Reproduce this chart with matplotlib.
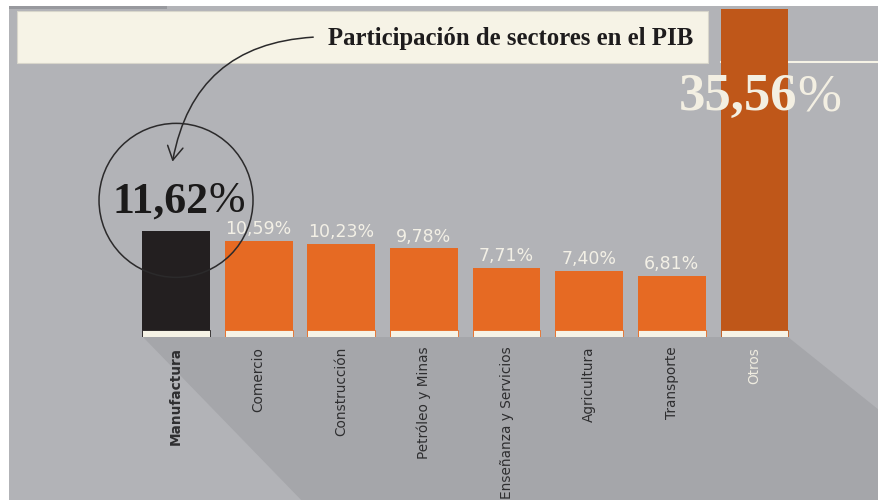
import numpy as np
import matplotlib.pyplot as plt
from matplotlib.patches import Rectangle, Polygon, Circle, FancyArrowPatch

# data
sectores = ["Manufactura", "Comercio", "Construcción", "Petróleo y Minas",
            "Enseñanza y Servicios", "Agricultura", "Transporte", "Otros"]
participacion = [11.62, 10.59, 10.23, 9.78, 7.71, 7.40, 6.81, 35.56]
etiquetas = ["11,62", "10,59%", "10,23%", "9,78%", "7,71%", "7,40%", "6,81%", "35,56"]
titulo = "Participación de sectores en el PIB"

GRAY = "#b2b3b7"
SHADOW = "#a5a6aa"
CREAM = "#f6f3e6"
ORANGE = "#e66a23"
DARK_ORANGE = "#bf5719"
BLACK = "#231f20"

W, H = 879, 500
fig = plt.figure(figsize=(W / 100, H / 100), dpi=100)
fig.patch.set_facecolor(GRAY)

# background layer, pixel coordinates
bg = fig.add_axes([0, 0, 1, 1])
bg.set_xlim(0, W)
bg.set_ylim(H, 0)
bg.axis("off")
bg.add_patch(Rectangle((-5, -5), 14, H + 10, color="white", lw=0))
bg.add_patch(Rectangle((-5, -5), W + 10, 11, color="white", lw=0))
bg.add_patch(Rectangle((9, 6), 158, 2.5, color="#98999e", lw=0))
bg.add_patch(Polygon([(143, 337), (788, 337), (W + 5, 414), (W + 5, H + 5), (306, H + 5)],
                     closed=True, color=SHADOW, lw=0))
bg.add_patch(Rectangle((17, 11), 691, 52, fc=CREAM, ec="#d8d6cb", lw=0.8))
bg.plot([721, W + 5], [62, 62], color=CREAM, lw=1.5)
bg.text(693, 38, titulo, ha="right", va="center", fontsize=17.8,
        fontweight="bold", family="Liberation Serif", color="#1e1c1d")

# bars
ax = fig.add_axes([134.7 / W, (H - 337) / H, 661.1 / W, 328 / H])
ax.patch.set_alpha(0)
ax.axis("off")
x = np.arange(len(sectores))
colores = [BLACK] + [ORANGE] * 6 + [DARK_ORANGE]

top = max(participacion)
base = 1.0
escala = 321 / (top - base)
bottom = base - 7 / escala
ax.set_xlim(-0.5, len(sectores) - 0.5)
ax.set_ylim(bottom, top)

ax.bar(x, participacion, width=0.82, color=colores, zorder=2)
ax.bar(x, base - bottom, bottom=bottom, width=0.82, color=CREAM,
       edgecolor=colores, lw=0.6, zorder=3)

for i in range(1, len(sectores) - 1):
    ax.annotate(etiquetas[i], xy=(x[i], participacion[i]), xytext=(0, 2),
                textcoords="offset points", ha="center", va="bottom",
                fontsize=12.5, color="#f3f0e6", family="DejaVu Sans")

for i, s in enumerate(sectores):
    col = "#efece0" if i == len(sectores) - 1 else "#2e2e30"
    ax.annotate(s, xy=(x[i], bottom), xytext=(0, -7), textcoords="offset points",
                rotation=90, ha="center", va="top", fontsize=9.8, color=col,
                fontweight="bold" if i == 0 else "normal")

# big labels
px = 0.72
ax.annotate(etiquetas[0], xy=(x[0], participacion[0]), xytext=(32 * px, 19 * px),
            textcoords="offset points", ha="right", va="baseline", fontsize=31.5,
            fontweight="bold", family="Liberation Serif", color="#1b1a1a", zorder=5)
ax.annotate("%", xy=(x[0], participacion[0]), xytext=(32 * px, 19 * px),
            textcoords="offset points", ha="left", va="baseline", fontsize=31.5,
            family="Liberation Serif", color="#1b1a1a", zorder=5)
ax.annotate(etiquetas[-1], xy=(x[-1], participacion[-1]), xytext=(43 * px, -101 * px),
            textcoords="offset points", ha="right", va="baseline", fontsize=38,
            fontweight="bold", family="Liberation Serif", color="#f3efe2", zorder=5)
ax.annotate("%", xy=(x[-1], participacion[-1]), xytext=(43 * px, -101 * px),
            textcoords="offset points", ha="left", va="baseline", fontsize=38,
            family="Liberation Serif", color="#f3efe2", zorder=5)

# overlay: circle + arrow
ov = fig.add_axes([0, 0, 1, 1])
ov.set_xlim(0, W)
ov.set_ylim(H, 0)
ov.axis("off")
ov.patch.set_alpha(0)
p = ax.transData.transform((x[0], participacion[0]))
cx, cy = p[0], H - p[1] - 31
ov.add_patch(Circle((cx, cy), 77, fill=False, ec="#2b2a2b", lw=1.1))
ov.add_patch(FancyArrowPatch((316, 37), (cx - 4, cy - 36),
                             connectionstyle="arc3,rad=0.4",
                             arrowstyle="->,head_length=0.7,head_width=0.4",
                             mutation_scale=14, color="#2b2a2b", lw=1.1))

fig.savefig("out.png", dpi=100)
